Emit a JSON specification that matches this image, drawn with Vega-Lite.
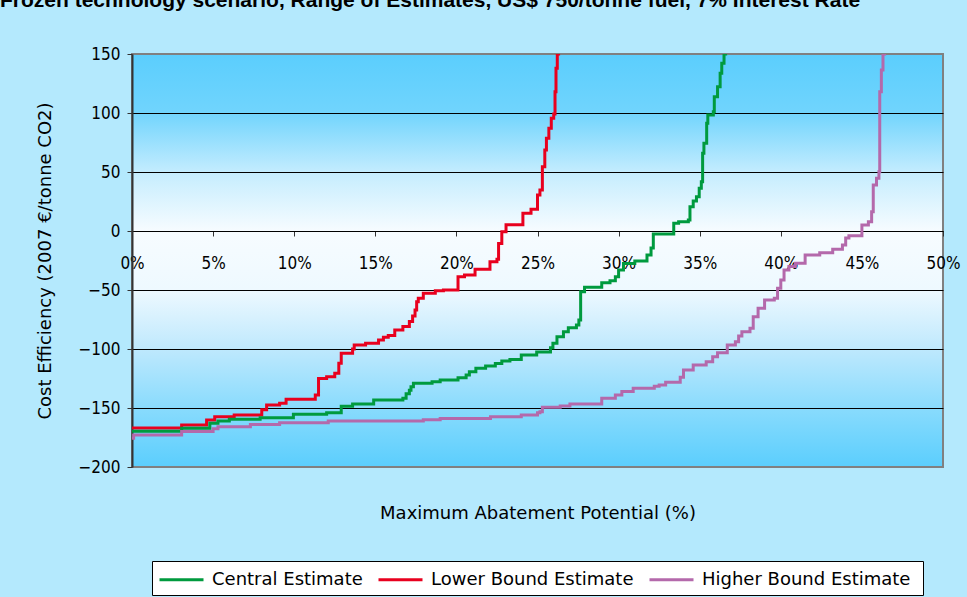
{
  "$schema": "https://vega.github.io/schema/vega-lite/v6.json",
  "width": 811,
  "height": 413,
  "autosize": {"type": "none"},
  "padding": {"left": 132, "top": 54, "right": 24, "bottom": 130},
  "background": "#b4e9fd",
  "title": {
    "text": "Frozen technology scenario, Range of Estimates, US$ 750/tonne fuel, 7% Interest Rate",
    "anchor": "start",
    "frame": "group",
    "font": "Liberation Sans",
    "fontSize": 21,
    "fontWeight": "bold",
    "color": "#000000",
    "dx": -132,
    "offset": 34
  },
  "datasets": {
    "curves": [
      {"series": "Lower Bound Estimate", "x": 0, "y": -167},
      {"series": "Lower Bound Estimate", "x": 3.06, "y": -164.4},
      {"series": "Lower Bound Estimate", "x": 4.6, "y": -160.2},
      {"series": "Lower Bound Estimate", "x": 5.1, "y": -157.4},
      {"series": "Lower Bound Estimate", "x": 6.3, "y": -156},
      {"series": "Lower Bound Estimate", "x": 8.0, "y": -151.5},
      {"series": "Lower Bound Estimate", "x": 8.3, "y": -147.5},
      {"series": "Lower Bound Estimate", "x": 9.1, "y": -146},
      {"series": "Lower Bound Estimate", "x": 9.5, "y": -142.6},
      {"series": "Lower Bound Estimate", "x": 11.3, "y": -139},
      {"series": "Lower Bound Estimate", "x": 11.5, "y": -124.9},
      {"series": "Lower Bound Estimate", "x": 12.0, "y": -123.5},
      {"series": "Lower Bound Estimate", "x": 12.5, "y": -120.6},
      {"series": "Lower Bound Estimate", "x": 12.75, "y": -112},
      {"series": "Lower Bound Estimate", "x": 12.9, "y": -103.7},
      {"series": "Lower Bound Estimate", "x": 13.6, "y": -100},
      {"series": "Lower Bound Estimate", "x": 13.7, "y": -96.6},
      {"series": "Lower Bound Estimate", "x": 14.4, "y": -95.2},
      {"series": "Lower Bound Estimate", "x": 15.2, "y": -92.4},
      {"series": "Lower Bound Estimate", "x": 15.5, "y": -90},
      {"series": "Lower Bound Estimate", "x": 15.8, "y": -88.5},
      {"series": "Lower Bound Estimate", "x": 16.2, "y": -84},
      {"series": "Lower Bound Estimate", "x": 16.7, "y": -81},
      {"series": "Lower Bound Estimate", "x": 17.1, "y": -76.8},
      {"series": "Lower Bound Estimate", "x": 17.3, "y": -72},
      {"series": "Lower Bound Estimate", "x": 17.45, "y": -67},
      {"series": "Lower Bound Estimate", "x": 17.55, "y": -60},
      {"series": "Lower Bound Estimate", "x": 17.65, "y": -57},
      {"series": "Lower Bound Estimate", "x": 17.96, "y": -52.8},
      {"series": "Lower Bound Estimate", "x": 18.7, "y": -50.6},
      {"series": "Lower Bound Estimate", "x": 19.2, "y": -50},
      {"series": "Lower Bound Estimate", "x": 20.1, "y": -38.7},
      {"series": "Lower Bound Estimate", "x": 20.5, "y": -37.3},
      {"series": "Lower Bound Estimate", "x": 21.15, "y": -32.5},
      {"series": "Lower Bound Estimate", "x": 22.07, "y": -26},
      {"series": "Lower Bound Estimate", "x": 22.5, "y": -24},
      {"series": "Lower Bound Estimate", "x": 22.6, "y": -10.5},
      {"series": "Lower Bound Estimate", "x": 22.8, "y": -0.7},
      {"series": "Lower Bound Estimate", "x": 23.06, "y": 5.3},
      {"series": "Lower Bound Estimate", "x": 24.1, "y": 15},
      {"series": "Lower Bound Estimate", "x": 24.6, "y": 18.4},
      {"series": "Lower Bound Estimate", "x": 25.0, "y": 30.5},
      {"series": "Lower Bound Estimate", "x": 25.15, "y": 34.7},
      {"series": "Lower Bound Estimate", "x": 25.3, "y": 54.5},
      {"series": "Lower Bound Estimate", "x": 25.45, "y": 68.6},
      {"series": "Lower Bound Estimate", "x": 25.55, "y": 78.5},
      {"series": "Lower Bound Estimate", "x": 25.7, "y": 87},
      {"series": "Lower Bound Estimate", "x": 25.85, "y": 95.5},
      {"series": "Lower Bound Estimate", "x": 26.0, "y": 99.1},
      {"series": "Lower Bound Estimate", "x": 26.08, "y": 118},
      {"series": "Lower Bound Estimate", "x": 26.14, "y": 137.9},
      {"series": "Lower Bound Estimate", "x": 26.22, "y": 150},
      {"series": "Lower Bound Estimate", "x": 26.3, "y": 165},

      {"series": "Central Estimate", "x": 0, "y": -169.8},
      {"series": "Central Estimate", "x": 3.06, "y": -167.2},
      {"series": "Central Estimate", "x": 4.8, "y": -163},
      {"series": "Central Estimate", "x": 5.3, "y": -161},
      {"series": "Central Estimate", "x": 6.0, "y": -159.6},
      {"series": "Central Estimate", "x": 7.9, "y": -158.2},
      {"series": "Central Estimate", "x": 9.95, "y": -155.4},
      {"series": "Central Estimate", "x": 12.0, "y": -154},
      {"series": "Central Estimate", "x": 12.9, "y": -148.6},
      {"series": "Central Estimate", "x": 13.6, "y": -146.6},
      {"series": "Central Estimate", "x": 14.9, "y": -143.2},
      {"series": "Central Estimate", "x": 16.7, "y": -141.8},
      {"series": "Central Estimate", "x": 16.9, "y": -138},
      {"series": "Central Estimate", "x": 17.1, "y": -135},
      {"series": "Central Estimate", "x": 17.2, "y": -131.9},
      {"series": "Central Estimate", "x": 17.35, "y": -129},
      {"series": "Central Estimate", "x": 18.5, "y": -127.7},
      {"series": "Central Estimate", "x": 19.0, "y": -126.3},
      {"series": "Central Estimate", "x": 20.1, "y": -124.3},
      {"series": "Central Estimate", "x": 20.6, "y": -122},
      {"series": "Central Estimate", "x": 20.8, "y": -119.2},
      {"series": "Central Estimate", "x": 21.2, "y": -116.4},
      {"series": "Central Estimate", "x": 21.8, "y": -114.4},
      {"series": "Central Estimate", "x": 22.4, "y": -112.2},
      {"series": "Central Estimate", "x": 22.8, "y": -110.2},
      {"series": "Central Estimate", "x": 23.3, "y": -108.8},
      {"series": "Central Estimate", "x": 24.0, "y": -105.1},
      {"series": "Central Estimate", "x": 24.95, "y": -102.5},
      {"series": "Central Estimate", "x": 25.8, "y": -99},
      {"series": "Central Estimate", "x": 25.95, "y": -95.2},
      {"series": "Central Estimate", "x": 26.2, "y": -89.6},
      {"series": "Central Estimate", "x": 26.6, "y": -85.3},
      {"series": "Central Estimate", "x": 26.9, "y": -81.9},
      {"series": "Central Estimate", "x": 27.4, "y": -79.7},
      {"series": "Central Estimate", "x": 27.55, "y": -75.4},
      {"series": "Central Estimate", "x": 27.66, "y": -51.4},
      {"series": "Central Estimate", "x": 27.9, "y": -47.7},
      {"series": "Central Estimate", "x": 28.96, "y": -43.8},
      {"series": "Central Estimate", "x": 29.47, "y": -42.1},
      {"series": "Central Estimate", "x": 29.8, "y": -38.7},
      {"series": "Central Estimate", "x": 30.0, "y": -33},
      {"series": "Central Estimate", "x": 30.3, "y": -27.6},
      {"series": "Central Estimate", "x": 31.0, "y": -25.4},
      {"series": "Central Estimate", "x": 31.75, "y": -20.3},
      {"series": "Central Estimate", "x": 32.0, "y": -14.5},
      {"series": "Central Estimate", "x": 32.14, "y": -2.5},
      {"series": "Central Estimate", "x": 33.4, "y": 6.5},
      {"series": "Central Estimate", "x": 33.7, "y": 7.9},
      {"series": "Central Estimate", "x": 34.3, "y": 9.3},
      {"series": "Central Estimate", "x": 34.4, "y": 20.6},
      {"series": "Central Estimate", "x": 34.6, "y": 25.4},
      {"series": "Central Estimate", "x": 34.8, "y": 29.1},
      {"series": "Central Estimate", "x": 34.97, "y": 36.2},
      {"series": "Central Estimate", "x": 35.1, "y": 41.8},
      {"series": "Central Estimate", "x": 35.18, "y": 65.8},
      {"series": "Central Estimate", "x": 35.26, "y": 74.3},
      {"series": "Central Estimate", "x": 35.43, "y": 91.3},
      {"series": "Central Estimate", "x": 35.5, "y": 98.3},
      {"series": "Central Estimate", "x": 35.84, "y": 101.1},
      {"series": "Central Estimate", "x": 35.9, "y": 113.8},
      {"series": "Central Estimate", "x": 36.1, "y": 122.3},
      {"series": "Central Estimate", "x": 36.26, "y": 133.6},
      {"series": "Central Estimate", "x": 36.36, "y": 142.1},
      {"series": "Central Estimate", "x": 36.5, "y": 150},
      {"series": "Central Estimate", "x": 36.6, "y": 165},

      {"series": "Higher Bound  Estimate", "x": 0, "y": -175.7},
      {"series": "Higher Bound  Estimate", "x": 0.1, "y": -172.9},
      {"series": "Higher Bound  Estimate", "x": 3.06, "y": -170},
      {"series": "Higher Bound  Estimate", "x": 5.0, "y": -167.5},
      {"series": "Higher Bound  Estimate", "x": 5.3, "y": -165.8},
      {"series": "Higher Bound  Estimate", "x": 7.3, "y": -163.9},
      {"series": "Higher Bound  Estimate", "x": 9.1, "y": -162.4},
      {"series": "Higher Bound  Estimate", "x": 12.1, "y": -161},
      {"series": "Higher Bound  Estimate", "x": 17.96, "y": -160},
      {"series": "Higher Bound  Estimate", "x": 19.0, "y": -159},
      {"series": "Higher Bound  Estimate", "x": 22.1, "y": -157.4},
      {"series": "Higher Bound  Estimate", "x": 24.0, "y": -156},
      {"series": "Higher Bound  Estimate", "x": 25.0, "y": -154},
      {"series": "Higher Bound  Estimate", "x": 25.15, "y": -153.1},
      {"series": "Higher Bound  Estimate", "x": 25.3, "y": -149.4},
      {"series": "Higher Bound  Estimate", "x": 26.4, "y": -148.3},
      {"series": "Higher Bound  Estimate", "x": 27.0, "y": -146.6},
      {"series": "Higher Bound  Estimate", "x": 28.96, "y": -141.8},
      {"series": "Higher Bound  Estimate", "x": 29.8, "y": -139},
      {"series": "Higher Bound  Estimate", "x": 30.2, "y": -136.1},
      {"series": "Higher Bound  Estimate", "x": 30.9, "y": -133.3},
      {"series": "Higher Bound  Estimate", "x": 32.2, "y": -131.5},
      {"series": "Higher Bound  Estimate", "x": 32.5, "y": -130.5},
      {"series": "Higher Bound  Estimate", "x": 32.9, "y": -128.2},
      {"series": "Higher Bound  Estimate", "x": 33.8, "y": -124},
      {"series": "Higher Bound  Estimate", "x": 34.0, "y": -117.8},
      {"series": "Higher Bound  Estimate", "x": 34.6, "y": -113.6},
      {"series": "Higher Bound  Estimate", "x": 35.4, "y": -110.8},
      {"series": "Higher Bound  Estimate", "x": 35.8, "y": -106.5},
      {"series": "Higher Bound  Estimate", "x": 36.1, "y": -103.1},
      {"series": "Higher Bound  Estimate", "x": 36.7, "y": -96.6},
      {"series": "Higher Bound  Estimate", "x": 37.2, "y": -93.8},
      {"series": "Higher Bound  Estimate", "x": 37.4, "y": -89},
      {"series": "Higher Bound  Estimate", "x": 37.6, "y": -85.3},
      {"series": "Higher Bound  Estimate", "x": 38.1, "y": -82.5},
      {"series": "Higher Bound  Estimate", "x": 38.3, "y": -72.6},
      {"series": "Higher Bound  Estimate", "x": 38.6, "y": -65.5},
      {"series": "Higher Bound  Estimate", "x": 39.0, "y": -58.5},
      {"series": "Higher Bound  Estimate", "x": 39.6, "y": -57},
      {"series": "Higher Bound  Estimate", "x": 39.8, "y": -48.6},
      {"series": "Higher Bound  Estimate", "x": 40.0, "y": -41.5},
      {"series": "Higher Bound  Estimate", "x": 40.2, "y": -33.1},
      {"series": "Higher Bound  Estimate", "x": 40.5, "y": -30},
      {"series": "Higher Bound  Estimate", "x": 40.9, "y": -27.4},
      {"series": "Higher Bound  Estimate", "x": 41.5, "y": -20.3},
      {"series": "Higher Bound  Estimate", "x": 42.4, "y": -18.4},
      {"series": "Higher Bound  Estimate", "x": 43.2, "y": -15.5},
      {"series": "Higher Bound  Estimate", "x": 43.8, "y": -11.9},
      {"series": "Higher Bound  Estimate", "x": 44.0, "y": -6},
      {"series": "Higher Bound  Estimate", "x": 44.2, "y": -4},
      {"series": "Higher Bound  Estimate", "x": 45.0, "y": 5.1},
      {"series": "Higher Bound  Estimate", "x": 45.4, "y": 7.9},
      {"series": "Higher Bound  Estimate", "x": 45.6, "y": 16.4},
      {"series": "Higher Bound  Estimate", "x": 45.7, "y": 38.9},
      {"series": "Higher Bound  Estimate", "x": 45.9, "y": 44.6},
      {"series": "Higher Bound  Estimate", "x": 46.05, "y": 50.3},
      {"series": "Higher Bound  Estimate", "x": 46.1, "y": 118},
      {"series": "Higher Bound  Estimate", "x": 46.2, "y": 136.4},
      {"series": "Higher Bound  Estimate", "x": 46.3, "y": 150},
      {"series": "Higher Bound  Estimate", "x": 46.4, "y": 165}
    ]
  },
  "data": {"name": "curves"},
  "mark": {"type": "line", "interpolate": "step-after", "strokeWidth": 3, "clip": true},
  "encoding": {
    "x": {
      "field": "x",
      "type": "quantitative",
      "scale": {"domain": [0, 50], "nice": false, "zero": false},
      "axis": {
        "values": [0, 5, 10, 15, 20, 25, 30, 35, 40, 45, 50],
        "labelExpr": "datum.value + '%'",
        "offset": -236,
        "grid": false,
        "domainColor": "#000000",
        "domainWidth": 1,
        "tickColor": "#333333",
        "tickSize": 5,
        "labelFont": "DejaVu Sans Condensed",
        "labelFontSize": 17,
        "labelColor": "#000000",
        "labelPadding": 19,
        "labelFlush": false,
        "labelOverlap": false,
        "labelBound": false,
        "title": "Maximum Abatement Potential (%)",
        "titleFont": "DejaVu Sans",
        "titleFontSize": 18,
        "titleFontWeight": "normal",
        "titleColor": "#000000",
        "titleY": 282,
        "titleBaseline": "middle"
      }
    },
    "y": {
      "field": "y",
      "type": "quantitative",
      "scale": {"domain": [-200, 150], "nice": false, "zero": false},
      "axis": {
        "values": [-200, -150, -100, -50, 0, 50, 100, 150],
        "grid": true,
        "gridColor": {"condition": {"test": "datum.value == 150 || datum.value == -200", "value": "#808080"}, "value": "#000000"},
        "gridWidth": 1,
        "domainColor": "#333333",
        "domainWidth": 2,
        "tickColor": "#333333",
        "tickSize": 5,
        "labelFont": "DejaVu Sans Condensed",
        "labelFontSize": 17,
        "labelColor": "#000000",
        "labelPadding": 7,
        "title": "Cost Efficiency (2007 €/tonne CO2)",
        "titleFont": "DejaVu Sans",
        "titleFontSize": 18,
        "titleFontWeight": "normal",
        "titleColor": "#000000",
        "titleX": -87,
        "titleBaseline": "middle"
      }
    },
    "color": {
      "field": "series",
      "type": "nominal",
      "scale": {
        "domain": ["Central Estimate", "Lower Bound Estimate", "Higher Bound  Estimate"],
        "range": ["#009a3e", "#e8001e", "#b469ab"]
      },
      "legend": {
        "orient": "none",
        "legendX": 20,
        "legendY": 507,
        "direction": "horizontal",
        "title": null,
        "fillColor": "#ffffff",
        "strokeColor": "#000000",
        "padding": 6,
        "symbolType": "M-1,0H3",
        "symbolSize": 484,
        "symbolStrokeWidth": 3,
        "labelFont": "DejaVu Sans",
        "labelFontSize": 18,
        "labelColor": "#000000",
        "labelOffset": 29,
        "columnPadding": 9,
        "labelLimit": 400
      }
    }
  },
  "config": {
    "view": {
      "fill": {
        "gradient": "linear",
        "x1": 0, "y1": 0, "x2": 0, "y2": 1,
        "stops": [
          {"offset": 0, "color": "#5bcefd"},
          {"offset": 0.14, "color": "#70d4fd"},
          {"offset": 0.29, "color": "#c6edfe"},
          {"offset": 0.43, "color": "#f7fcff"},
          {"offset": 0.57, "color": "#eef9ff"},
          {"offset": 0.71, "color": "#c0e9fd"},
          {"offset": 0.86, "color": "#88dbfd"},
          {"offset": 1, "color": "#5bcefd"}
        ]
      },
      "stroke": "#808080",
      "strokeWidth": 2
    }
  }
}
